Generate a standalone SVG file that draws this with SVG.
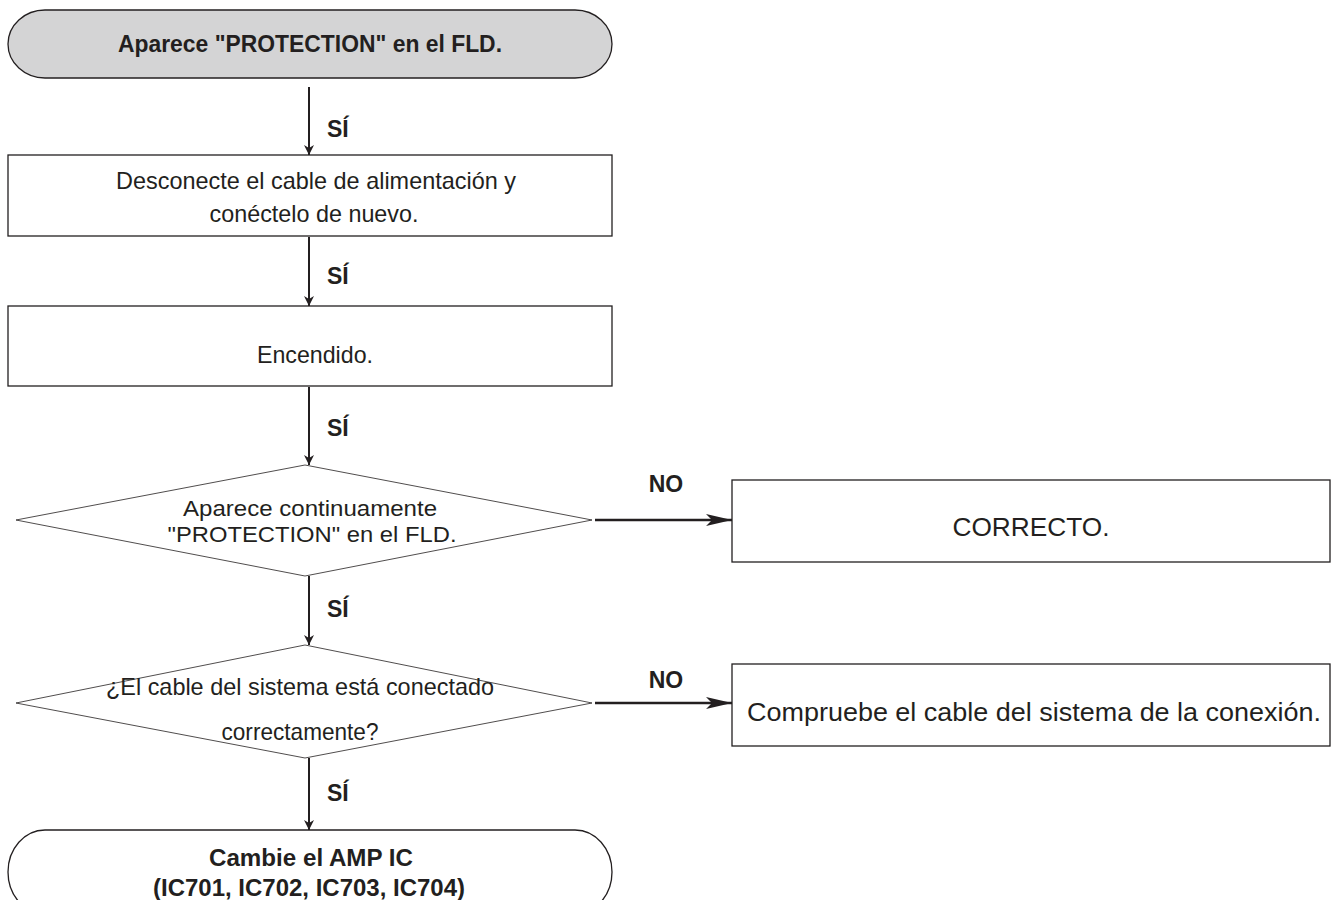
<svg xmlns="http://www.w3.org/2000/svg" width="1335" height="900" viewBox="0 0 1335 900">
  <defs>
    <marker id="arrowV" viewBox="0 0 10 22" refX="10" refY="11" markerWidth="10" markerHeight="22" markerUnits="userSpaceOnUse" orient="auto">
      <path d="M0,6 L10,11 L0,16 L3,11 Z" fill="#231f20"/>
    </marker>
    <marker id="arrowH" viewBox="0 0 26 12" refX="26" refY="6" markerWidth="26" markerHeight="12" markerUnits="userSpaceOnUse" orient="auto">
      <path d="M0,0 L26,6 L0,12 L6,6 Z" fill="#231f20"/>
    </marker>
    <style>
      .shape { fill: #ffffff; stroke: #231f20; stroke-width: 1.3; }
      .terminal { fill: #d4d4d5; stroke: #231f20; stroke-width: 1.3; }
      .end { fill: #ffffff; stroke: #231f20; stroke-width: 1.3; }
      .diamond { fill: #ffffff; stroke: #231f20; stroke-width: 0.8; }
      .txt { font-family: "Liberation Sans", Arial, sans-serif; font-size: 24px; fill: #231f20; text-anchor: middle; }
      .tight { font-family: "Liberation Sans", Arial, sans-serif; font-size: 22px; fill: #231f20; text-anchor: middle; }
      .big { font-family: "Liberation Sans", Arial, sans-serif; font-size: 26px; fill: #231f20; text-anchor: middle; }
      .bold { font-family: "Liberation Sans", Arial, sans-serif; font-size: 24px; font-weight: bold; fill: #231f20; text-anchor: middle; }
      .lbl { font-family: "Liberation Sans", Arial, sans-serif; font-size: 23px; font-weight: bold; fill: #231f20; }
      .vline { stroke: #231f20; stroke-width: 2; fill: none; marker-end: url(#arrowV); }
      .hline { stroke: #231f20; stroke-width: 2.6; fill: none; marker-end: url(#arrowH); }
    </style>
  </defs>

  <!-- start terminal -->
  <g id="start">
    <path class="terminal" d="M45,10 H575 A37,34 0 0 1 575,78 H45 A37,34 0 0 1 45,10 Z"/>
    <text class="bold" x="310" y="52" textLength="384" lengthAdjust="spacingAndGlyphs">Aparece "PROTECTION" en el FLD.</text>
  </g>

  <!-- step: unplug and reconnect -->
  <g id="reconnect">
    <rect class="shape" x="8" y="155" width="604" height="81"/>
    <text class="txt" x="316" y="189" textLength="400" lengthAdjust="spacingAndGlyphs">Desconecte el cable de alimentación y</text>
    <text class="txt" x="314" y="222" textLength="209" lengthAdjust="spacingAndGlyphs">conéctelo de nuevo.</text>
  </g>

  <!-- step: power on -->
  <g id="power-on">
    <rect class="shape" x="8" y="306" width="604" height="80"/>
    <text class="txt" x="315" y="363" textLength="116" lengthAdjust="spacingAndGlyphs">Encendido.</text>
  </g>

  <!-- decision: protection still shown -->
  <g id="check-protection">
    <polygon class="diamond" points="305,465 592,520 305,576 16,520"/>
    <text class="tight" x="310" y="516" textLength="254" lengthAdjust="spacingAndGlyphs">Aparece continuamente</text>
    <text class="tight" x="312" y="542" textLength="289" lengthAdjust="spacingAndGlyphs">"PROTECTION" en el FLD.</text>
  </g>

  <!-- result: ok -->
  <g id="ok">
    <rect class="shape" x="732" y="480" width="598" height="82"/>
    <text class="big" x="1031" y="536" textLength="157" lengthAdjust="spacingAndGlyphs">CORRECTO.</text>
  </g>

  <!-- decision: system cable -->
  <g id="check-cable">
    <polygon class="diamond" points="305,645 592,703 305,758 16,703"/>
    <text class="txt" x="300" y="695" textLength="388" lengthAdjust="spacingAndGlyphs">¿El cable del sistema está conectado</text>
    <text class="txt" x="300" y="740" textLength="157" lengthAdjust="spacingAndGlyphs">correctamente?</text>
  </g>

  <!-- result: check cable -->
  <g id="cable-fix">
    <rect class="shape" x="732" y="664" width="598" height="82"/>
    <text class="big" x="1034" y="721" textLength="574" lengthAdjust="spacingAndGlyphs">Compruebe el cable del sistema de la conexión.</text>
  </g>

  <!-- end terminal -->
  <g id="replace-amp">
    <path class="end" d="M45,830 H575 A37,42 0 0 1 575,914 H45 A37,42 0 0 1 45,830 Z"/>
    <text class="bold" x="311" y="866" textLength="204" lengthAdjust="spacingAndGlyphs">Cambie el AMP IC</text>
    <text class="bold" x="309" y="896" textLength="312" lengthAdjust="spacingAndGlyphs">(IC701, IC702, IC703, IC704)</text>
  </g>

  <!-- connectors -->
  <g id="connectors">
    <line class="vline" x1="309" y1="87" x2="309" y2="155"/>
    <line class="vline" x1="309" y1="237" x2="309" y2="306"/>
    <line class="vline" x1="309" y1="387" x2="309" y2="465"/>
    <line class="vline" x1="309" y1="576" x2="309" y2="645"/>
    <line class="vline" x1="309" y1="758" x2="309" y2="830"/>
    <line class="hline" x1="595" y1="520" x2="732" y2="520"/>
    <line class="hline" x1="595" y1="703" x2="732" y2="703"/>
    <text class="lbl" x="327" y="137">SÍ</text>
    <text class="lbl" x="327" y="284">SÍ</text>
    <text class="lbl" x="327" y="436">SÍ</text>
    <text class="lbl" x="327" y="617">SÍ</text>
    <text class="lbl" x="327" y="801">SÍ</text>
    <text class="lbl" x="666" y="492" text-anchor="middle">NO</text>
    <text class="lbl" x="666" y="688" text-anchor="middle">NO</text>
  </g>
</svg>
